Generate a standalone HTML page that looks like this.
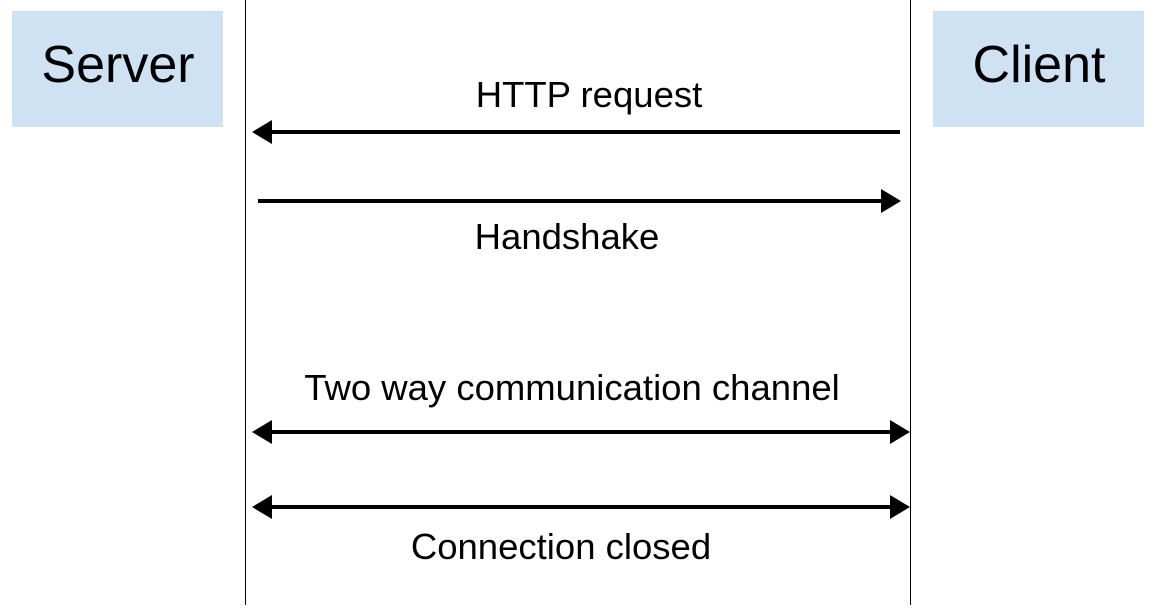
<!DOCTYPE html>
<html><head><style>
body{margin:0;width:1155px;height:605px;background:#fff;overflow:hidden;font-family:"Liberation Sans",Arial,sans-serif}
</style></head><body>
<svg width="1155" height="605" xmlns="http://www.w3.org/2000/svg" font-family="Liberation Sans, Arial, sans-serif">
<rect x="12" y="11" width="211" height="116" fill="#cfe2f3"/>
<rect x="933" y="11" width="211" height="116" fill="#cfe2f3"/>
<text x="118" y="82" font-size="52" text-anchor="middle">Server</text>
<text x="1039" y="82" font-size="52" text-anchor="middle">Client</text>
<line x1="245.5" y1="0" x2="245.5" y2="605" stroke="#000" stroke-width="1"/>
<line x1="910.5" y1="0" x2="910.5" y2="605" stroke="#000" stroke-width="1"/>
<g stroke="#000" stroke-width="4">
<line x1="900" y1="132" x2="268" y2="132"/>
<line x1="258" y1="201" x2="885" y2="201"/>
<line x1="268" y1="432" x2="895" y2="432"/>
<line x1="268" y1="507" x2="895" y2="507"/>
</g>
<g fill="#000">
<polygon points="252,132 272,120 272,144"/>
<polygon points="901,201 881,189 881,213"/>
<polygon points="252,432 272,420 272,444"/>
<polygon points="910,432 890,420 890,444"/>
<polygon points="252,507 272,495 272,519"/>
<polygon points="910,507 890,495 890,519"/>
</g>
<g font-size="36.5" text-anchor="middle">
<text x="589" y="107">HTTP request</text>
<text x="567" y="249">Handshake</text>
<text x="572" y="400">Two way communication channel</text>
<text x="561" y="559">Connection closed</text>
</g>
</svg>
</body></html>
